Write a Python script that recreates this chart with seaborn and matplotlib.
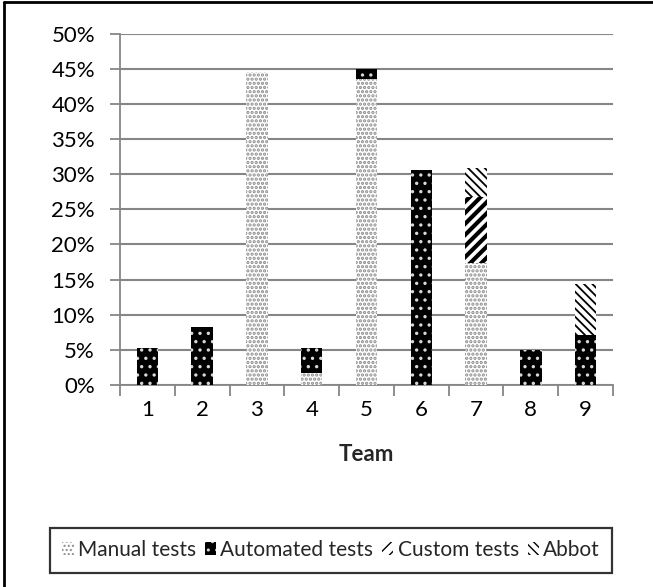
import matplotlib
matplotlib.use("Agg")
import matplotlib.pyplot as plt
from matplotlib.patches import Patch
from matplotlib.lines import Line2D
from matplotlib.ticker import PercentFormatter, FixedLocator
import numpy as np
import pandas as pd
import seaborn as sns

# Share of defects found per team, by test source (percent)
teams = ["1", "2", "3", "4", "5", "6", "7", "8", "9"]
manual_tests = [0, 0, 44.5, 1.7, 43.5, 0, 17.4, 0, 0]
automated_tests = [5.2, 8.3, 0, 3.6, 1.5, 30.6, 0, 5.0, 7.1]
custom_tests = [0, 0, 0, 0, 0, 0, 9.4, 0, 0]
abbot = [0, 0, 0, 0, 0, 0, 4.1, 0, 7.2]

series_names = ["Manual tests", "Automated tests", "Custom tests", "Abbot"]
series_values = [manual_tests, automated_tests, custom_tests, abbot]

# face, hatch colour, hatch pattern, hatch line width
styles = {
    "Manual tests": ("white", "#8c8c8c", "....", 1.6),
    "Automated tests": ("black", "#d9d9d9", "..", 1.2),
    "Custom tests": ("white", "black", "///", 3.0),
    "Abbot": ("white", "black", "\\\\\\\\", 1.3),
}

sns.set_theme(style="white")
plt.rcParams["font.family"] = ["Lato", "DejaVu Sans"]

fig = plt.figure(figsize=(6.53, 5.87), dpi=100)
ax = fig.add_axes([120 / 653, 1 - 385 / 587, 493 / 653, 351.5 / 587])

# cumulative tops, drawn from the top layer downwards so lower layers overdraw
cum = np.cumsum(np.array(series_values), axis=0)
for name, tops in reversed(list(zip(series_names, cum))):
    face, hcol, hatch, hlw = styles[name]
    df = pd.DataFrame({"team": teams, "value": tops})
    with plt.rc_context({"hatch.linewidth": hlw, "hatch.color": hcol}):
        sns.barplot(data=df, x="team", y="value", ax=ax, color=face,
                    width=0.39, edgecolor=hcol, linewidth=0, hatch=hatch,
                    saturation=1, errorbar=None, zorder=3)
    for p in ax.patches[-len(teams):]:
        p.set_facecolor(face)
        p.set_edgecolor(hcol)
        p.set_linewidth(0)
        if hasattr(p, "set_hatch_linewidth"):
            p.set_hatch_linewidth(hlw)

grid_col = "#868686"
ax.set_ylim(0, 50)
ax.set_xlim(-0.5, len(teams) - 0.5)
ax.yaxis.set_major_locator(FixedLocator(np.arange(0, 51, 5)))
ax.yaxis.set_major_formatter(PercentFormatter(decimals=0))
ax.grid(axis="y", color=grid_col, linewidth=1.5, zorder=0)
ax.set_axisbelow(True)

for side in ["top", "right"]:
    ax.spines[side].set_visible(False)
for side in ["left", "bottom"]:
    ax.spines[side].set_color(grid_col)
    ax.spines[side].set_linewidth(1.3)

ax.tick_params(axis="y", which="major", left=True, length=7, width=1.3,
               color=grid_col, labelsize=16, labelcolor="black", pad=11)
# category ticks sit between the bars on the x axis
ax.tick_params(axis="x", which="major", bottom=False, labelsize=16,
               labelcolor="black", pad=5)
ax.set_xticks(np.arange(-0.5, len(teams), 1.0), minor=True)
ax.tick_params(axis="x", which="minor", bottom=True, length=8, width=1.3,
               color=grid_col)

ax.set_ylabel("")
ax.set_xlabel("Team", fontsize=16, fontweight="bold", labelpad=17)

handles = []
for name in series_names:
    face, hcol, hatch, hlw = styles[name]
    handles.append(Patch(facecolor=face, edgecolor=hcol, hatch=hatch,
                         linewidth=0, label=name))
leg = fig.legend(handles=handles, loc="center", ncol=4,
                 bbox_to_anchor=(331 / 653, 1 - 550 / 587),
                 fontsize=15, frameon=True, fancybox=False,
                 handlelength=0.55, handleheight=0.55, handletextpad=0.2,
                 columnspacing=0.42, borderpad=0.6, borderaxespad=0)
leg.get_frame().set_edgecolor("black")
leg.get_frame().set_linewidth(1.6)

# outer chart frame (top and left edges)
fig.add_artist(Line2D([4 / 653, 1], [1 - 2 / 587, 1 - 2 / 587],
                      transform=fig.transFigure, color="black", linewidth=2))
fig.add_artist(Line2D([4 / 653, 4 / 653], [0, 1 - 2 / 587],
                      transform=fig.transFigure, color="black", linewidth=2))

fig.savefig("out.png", dpi=100)
